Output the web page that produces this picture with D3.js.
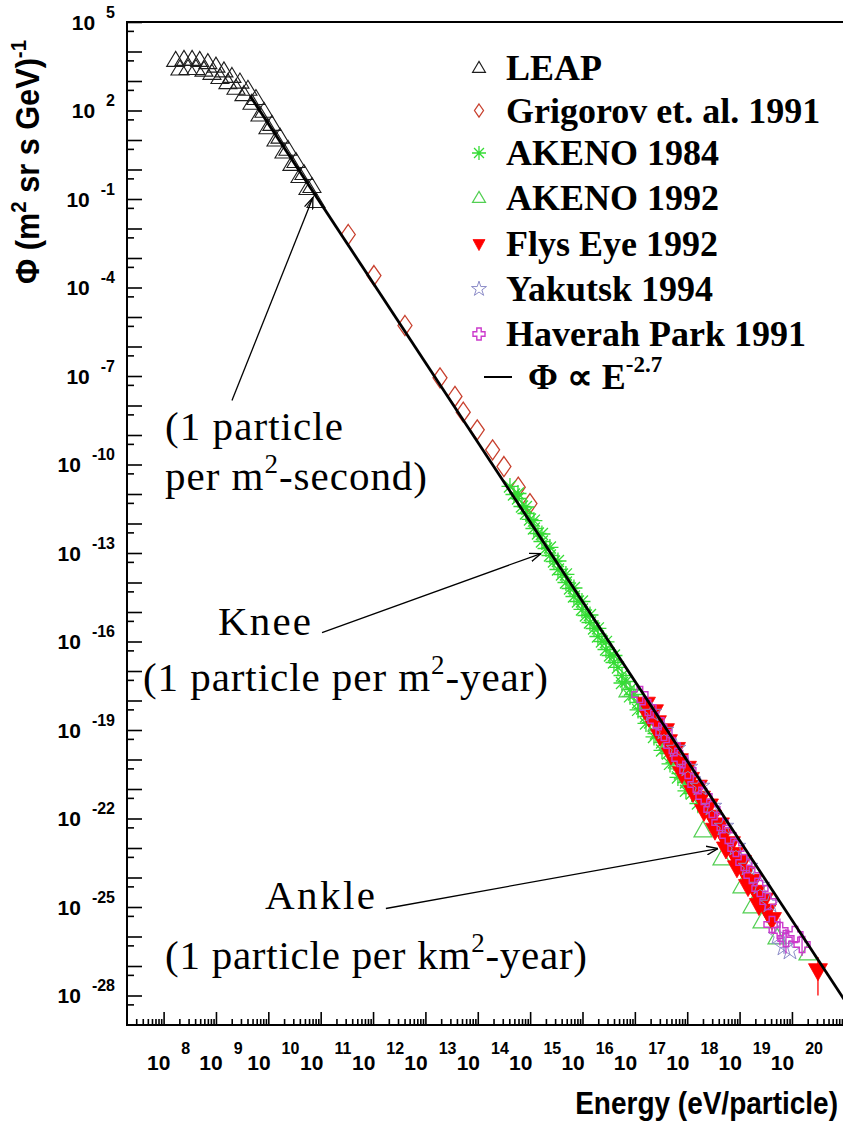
<!DOCTYPE html>
<html>
<head>
<meta charset="utf-8">
<script src="https://cdn.jsdelivr.net/npm/d3@7"></script>
<style>
  html, body { margin: 0; padding: 0; background: #fff; }
  svg { display: block; }
</style>
</head>
<body>
<svg id="chart" width="843" height="1128"></svg>
<script>
// ---- Cosmic-ray all-particle flux: [energy (eV), flux (m^2 sr s GeV)^-1] ----
const leap = [
  [1.7e8, 5.0e3], [2.45e8, 5.4e3], [3.5e8, 5.4e3], [4.9e8, 5.0e3], [7.0e8, 4.2e3],
  [1.0e9, 3.2e3], [1.42e9, 2.2e3], [2.02e9, 1.43e3], [2.87e9, 919], [4.08e9, 527],
  [5.8e9, 255], [8.25e9, 94], [1.17e10, 33.8], [1.67e10, 12.5], [2.37e10, 4.84],
  [3.37e10, 1.87], [4.79e10, 0.731], [6.81e10, 0.265],
  [2.05e8, 2.55e3], [2.92e8, 2.65e3], [4.15e8, 2.65e3], [5.9e8, 2.34e3], [8.38e8, 1.82e3],
  [1.19e9, 1.32e3], [1.69e9, 883], [2.41e9, 570], [3.42e9, 344], [4.87e9, 177],
  [6.92e9, 70.3], [9.84e9, 25.9], [1.4e10, 10], [1.99e10, 3.92], [2.82e10, 1.49],
  [4.02e10, 0.579], [5.71e10, 0.227], [8.13e10, 0.0822]
];
const grigorov = [
  [3.36e11, 6.26e-3], [1.04e12, 2.55e-4], [4.07e12, 5.15e-6], [1.90e13, 8.69e-8],
  [3.67e13, 2.02e-8], [5.28e13, 5.93e-9], [9.78e13, 1.50e-9], [1.92e14, 3.15e-10],
  [3.16e14, 8.55e-11], [5.93e14, 1.70e-11], [9.93e14, 4.76e-12]
];
const akeno1984 = [
  [4.12e14, 1.80e-11], [4.91e14, 9.62e-12], [5.86e14, 7.03e-12], [6.98e14, 3.77e-12],
  [8.32e14, 2.18e-12], [9.93e14, 1.37e-12], [1.18e15, 6.78e-13], [1.41e15, 4.58e-13],
  [1.68e15, 2.45e-13], [2.01e15, 1.42e-13], [2.39e15, 8.22e-14], [2.85e15, 5.15e-14],
  [3.40e15, 2.76e-14], [4.06e15, 1.87e-14], [4.83e15, 1.0e-14], [5.77e15, 6.27e-15],
  [6.87e15, 3.35e-15], [8.19e15, 2.27e-15], [9.77e15, 1.22e-15], [1.16e16, 7.60e-16],
  [1.39e16, 4.41e-16], [1.66e16, 2.76e-16], [1.97e16, 1.48e-16], [2.35e16, 1.0e-16],
  [2.81e16, 5.36e-17], [3.35e16, 3.35e-17], [3.99e16, 1.94e-17], [4.75e16, 1.32e-17],
  [5.68e16, 7.03e-18], [6.76e16, 4.41e-18], [8.07e16, 2.36e-18], [9.62e16, 1.60e-18],
  [1.15e17, 8.55e-19], [1.37e17, 5.36e-19], [1.63e17, 2.87e-19], [1.95e17, 1.79e-19],
  [2.53e17, 7.60e-20], [3.30e17, 3.77e-20], [4.29e17, 1.60e-20], [5.58e17, 7.91e-21],
  [7.26e17, 3.35e-21], [9.46e17, 1.66e-21], [1.23e18, 7.03e-22], [1.60e18, 3.22e-22],
  [5.86e14, 1.04e-11], [8.32e14, 3.62e-12], [1.18e15, 1.25e-12], [1.68e15, 4.41e-13],
  [2.39e15, 1.54e-13], [3.40e15, 5.36e-14], [4.83e15, 1.88e-14], [6.87e15, 6.52e-15],
  [9.77e15, 2.27e-15], [1.39e16, 7.91e-16], [1.97e16, 2.78e-16], [2.81e16, 9.68e-17],
  [3.99e16, 3.35e-17], [5.68e16, 3.92e-18], [8.07e16, 1.38e-18], [1.15e17, 4.80e-19],
  [1.63e17, 1.67e-19], [2.32e17, 5.83e-20], [3.30e17, 2.03e-20], [4.69e17, 7.10e-21],
  [6.65e17, 2.47e-21], [9.46e17, 8.69e-22]
];
const akeno1984Err = [
  [1.15e17, 3.3e-19, 1.4e-18], [2.53e17, 4.4e-20, 1.3e-19], [4.29e17, 9.0e-21, 2.8e-20],
  [7.26e17, 1.8e-21, 6.2e-21], [1.23e18, 3.6e-22, 1.4e-21], [1.60e18, 1.5e-22, 6.6e-22]
];
const akeno1992 = [
  [7.38e16, 2.18e-18], [2.64e17, 1.54e-19], [4.29e17, 3.48e-20], [6.95e17, 7.91e-21],
  [1.13e18, 1.94e-21], [2.00e18, 3.92e-23], [4.61e18, 4.41e-24], [1.11e19, 4.95e-25],
  [1.73e19, 1.04e-25], [2.68e19, 3.22e-26], [5.18e19, 9.25e-27], [2.02e20, 2.65e-27]
];
const flysEye1992 = [
  [1.63e17, 7.60e-19], [2.03e17, 3.92e-19], [2.64e17, 1.79e-19], [3.30e17, 8.89e-20],
  [4.29e17, 4.07e-20], [5.34e17, 2.02e-20], [6.95e17, 9.25e-21], [8.67e17, 4.76e-21],
  [1.13e18, 2.15e-21], [1.41e18, 1.10e-21], [1.83e18, 4.95e-22], [2.28e18, 2.55e-22],
  [2.97e18, 1.13e-22], [3.70e18, 5.83e-23], [4.82e18, 2.63e-23], [6.00e18, 1.35e-23],
  [7.82e18, 6.07e-24], [9.73e18, 3.10e-24], [1.27e19, 1.39e-24], [1.58e19, 7.14e-25],
  [2.06e19, 3.20e-25], [2.56e19, 1.65e-25], [3.33e19, 7.38e-26], [4.16e19, 3.80e-26],
  [1.86e17, 2.74e-19], [3.02e17, 6.27e-20], [4.90e17, 1.44e-20], [7.94e17, 3.35e-21],
  [1.29e18, 7.73e-22], [2.09e18, 1.77e-22], [3.39e18, 4.07e-23], [5.50e18, 9.40e-24],
  [8.91e18, 2.17e-24], [1.45e19, 4.99e-25], [2.34e19, 1.14e-25],
  [2.32e17, 4.21e-19], [3.76e17, 9.62e-20], [6.10e17, 2.22e-20], [9.89e17, 5.11e-21],
  [1.60e18, 1.17e-21], [2.60e18, 2.70e-22], [4.22e18, 6.17e-23], [6.84e18, 1.42e-23],
  [1.11e19, 3.27e-24], [1.80e19, 7.55e-25], [2.92e19, 1.74e-25],
  [3.14e20, 7.03e-28]
];
// error bars [energy, low, high]
const flysEyeErr = [
  [2.56e19, 7.9e-26, 5.1e-25], [3.33e19, 2.99e-26, 1.95e-25], [4.16e19, 1.60e-26, 8.9e-26],
  [3.14e20, 1.0e-28, 2.0e-27]
];
const yakutsk1994 = [
  [2.12e17, 3.92e-19], [3.60e17, 9.62e-20], [6.10e17, 2.36e-20], [1.03e18, 5.36e-21],
  [1.75e18, 1.22e-21], [2.97e18, 2.55e-22], [5.04e18, 5.36e-23], [8.53e18, 1.12e-23],
  [1.45e19, 2.36e-24], [2.45e19, 5.36e-25], [3.80e19, 1.32e-25], [5.41e19, 1.08e-26],
  [7.05e19, 4.58e-27], [9.17e19, 3.35e-27]
];
const yakutskErr = [[7.05e19, 2.6e-27, 8.0e-27]];
const haverahPark1991 = [
  [1.25e17, 1.60e-18], [1.78e17, 5.79e-19], [2.53e17, 2.10e-19], [3.60e17, 8.22e-20],
  [5.12e17, 2.99e-20], [7.26e17, 1.08e-20], [1.03e18, 4.24e-21], [1.47e18, 1.42e-21],
  [2.09e18, 5.57e-22], [2.97e18, 2.02e-22], [4.22e18, 7.31e-23], [6.00e18, 2.65e-23],
  [8.53e18, 9.62e-24], [1.21e19, 3.22e-24], [1.73e19, 1.17e-24], [2.45e19, 4.24e-25],
  [3.48e19, 1.53e-25], [4.16e19, 2.55e-26], [5.90e19, 1.60e-26], [7.69e19, 8.55e-27],
  [1.14e20, 1.17e-26], [1.56e20, 5.36e-27]
];
const haverahErr = [[5.90e19, 4.95e-27, 4.1e-26], [7.69e19, 2.65e-27, 1.8e-26], [1.56e20, 2.2e-27, 1.2e-26]];
// power law reference: endpoints of  1.8e4 (E/GeV)^-2.7
const powerLaw = [[4.5e9, 310], [1e21, 7.2e-29]];

// axis labelling
const xTickExponents = [8, 9, 10, 11, 12, 13, 14, 15, 16, 17, 18, 19, 20];
const yTickExponents = [5, 2, -1, -4, -7, -10, -13, -16, -19, -22, -25, -28];

const legendEntries = [
  { label: "LEAP", kind: "leap" },
  { label: "Grigorov et. al. 1991", kind: "grigorov" },
  { label: "AKENO 1984", kind: "akeno84" },
  { label: "AKENO 1992", kind: "akeno92" },
  { label: "Flys Eye 1992", kind: "flys" },
  { label: "Yakutsk 1994", kind: "yakutsk" },
  { label: "Haverah Park 1991", kind: "haverah" }
];

// ---- layout ----
const W = 843, H = 1128;
const svg = d3.select("#chart");
svg.append("rect").attr("width", W).attr("height", H).attr("fill", "#fff");

const frameL = 127, frameT = 22, frameB = 1025, frameR = 844.3;
const x = d3.scaleLog().domain([2e7, 1e21]).range([frameL, frameR]);
const y = d3.scaleLog().domain([1e-29, 1e5]).range([frameB, frameT]);

const SANS = "'Liberation Sans', Arial, Helvetica, sans-serif";
const SERIF = "'Liberation Serif', 'Times New Roman', Times, serif";

const defs = svg.append("defs");
defs.append("clipPath").attr("id", "plotclip")
  .append("rect").attr("x", frameL).attr("y", frameT).attr("width", frameR - frameL).attr("height", frameB - frameT);
defs.append("marker").attr("id", "arrowhead")
  .attr("viewBox", "0 0 12 10").attr("refX", 11.5).attr("refY", 5)
  .attr("markerWidth", 12).attr("markerHeight", 10)
  .attr("markerUnits", "userSpaceOnUse").attr("orient", "auto")
  .append("path").attr("d", "M0,0.6L11.5,5L0,9.4")
  .attr("fill", "none").attr("stroke", "#000").attr("stroke-width", 1.3);

// ---- marker shapes ----
function triPath(w, h, up) {
  const s = up ? 1 : -1;
  return `M0,${-s * h * 0.6}L${w / 2},${s * h * 0.4}L${-w / 2},${s * h * 0.4}Z`;
}
function diamondPath(w, h) {
  return `M0,${-h / 2}L${w / 2},0L0,${h / 2}L${-w / 2},0Z`;
}
function asteriskPath(r) {
  const k = r * 0.707;
  return `M${-r},0L${r},0M0,${-r}L0,${r}M${-k},${-k}L${k},${k}M${-k},${k}L${k},${-k}`;
}
function openCrossPath(r, a) {
  return `M${-a},${-r}L${a},${-r}L${a},${-a}L${r},${-a}L${r},${a}L${a},${a}L${a},${r}` +
         `L${-a},${r}L${-a},${a}L${-r},${a}L${-r},${-a}L${-a},${-a}Z`;
}
function starPath(area) { return d3.symbol().type(d3.symbolStar).size(area)(); }

const styles = {
  leap:     { big: triPath(18, 15, true),  small: triPath(13, 11, true),  stroke: "#1e1e1e", fill: "none", sw: 1.1 },
  grigorov: { big: diamondPath(14, 20),    small: diamondPath(9, 13),     stroke: "#c8402e", fill: "none", sw: 1.3 },
  akeno84:  { big: asteriskPath(8.5),      small: asteriskPath(7),        stroke: "#35dc35", fill: "none", sw: 1.3 },
  akeno92:  { big: triPath(18, 16, true),  small: triPath(13, 11, true),  stroke: "#52cf52", fill: "none", sw: 1.2 },
  flys:     { big: triPath(19, 17, false), small: triPath(12, 11, false), stroke: "#ff0000", fill: "#ff0000", sw: 0.8 },
  yakutsk:  { big: starPath(120),          small: starPath(70),           stroke: "#8c8cc8", fill: "none", sw: 1.0 },
  haverah:  { big: openCrossPath(8, 2.8),  small: openCrossPath(6, 2.2),  stroke: "#cc3acc", fill: "none", sw: 1.4 }
};

// ---- frame and axes ----
const axisG = svg.append("g");
const majorX = xTickExponents.map(n => Math.pow(10, n));
const minorX = [];
for (let n = 7; n <= 20; n++) for (let m = 2; m <= 9; m++) {
  const v = m * Math.pow(10, n);
  if (v > 2.05e7 && v < 1e21) minorX.push(v);
}
const majorY = d3.range(-28, 6).map(n => Math.pow(10, n));
const minorY = d3.range(-28, 6).map(n => 0.5 * Math.pow(10, n));

function styleAxis(g) {
  g.select(".domain").remove();
  g.selectAll(".tick line").attr("stroke", "#000").attr("stroke-width", 1.6);
  g.selectAll(".tick text").remove();
}
axisG.append("g").attr("transform", `translate(0,${frameB})`)
  .call(d3.axisBottom(x).tickValues(majorX).tickSize(-13).tickFormat("")).call(styleAxis);
axisG.append("g").attr("transform", `translate(0,${frameB})`)
  .call(d3.axisBottom(x).tickValues(minorX).tickSize(-6).tickFormat("")).call(styleAxis);
axisG.append("g").attr("transform", `translate(${frameL},0)`)
  .call(d3.axisLeft(y).tickValues(majorY).tickSize(-15).tickFormat("")).call(styleAxis);
axisG.append("g").attr("transform", `translate(${frameL},0)`)
  .call(d3.axisLeft(y).tickValues(minorY).tickSize(-7).tickFormat("")).call(styleAxis);

axisG.append("rect").attr("x", frameL).attr("y", frameT)
  .attr("width", frameR - frameL).attr("height", frameB - frameT)
  .attr("fill", "none").attr("stroke", "#000").attr("stroke-width", 2);

// tick labels as 10^n
const labG = svg.append("g").attr("font-family", SANS).attr("font-weight", "bold").attr("fill", "#000");
xTickExponents.forEach(n => {
  const t = labG.append("text").attr("x", x(Math.pow(10, n)) + 5).attr("y", 1070).attr("text-anchor", "middle");
  t.append("tspan").attr("font-size", 21).text("10");
  t.append("tspan").attr("font-size", 16).attr("dx", 11).attr("dy", -16).text(n);
});
yTickExponents.forEach(n => {
  const t = labG.append("text").attr("x", 115).attr("y", y(Math.pow(10, n)) + 7.5).attr("text-anchor", "end");
  t.append("tspan").attr("font-size", 21).text("10");
  t.append("tspan").attr("font-size", 16).attr("dx", 11).attr("dy", -12).text(n);
});

// axis titles (narrow bold sans, as in the original figure)
labG.append("text").attr("transform", "translate(838,1114) scale(0.875,1)")
  .attr("text-anchor", "end").attr("font-size", 32)
  .text("Energy (eV/particle)");
const yt = labG.append("text").attr("transform", "translate(39,284) rotate(-90) scale(0.93,1)")
  .attr("text-anchor", "start").attr("font-size", 33);
yt.append("tspan").text("\u03A6 (m");
yt.append("tspan").attr("font-size", 22).attr("dy", -13).text("2");
yt.append("tspan").attr("dy", 13).text(" sr s GeV)");
yt.append("tspan").attr("font-size", 22).attr("dy", -13).text("-1");

// ---- data ----
const plot = svg.append("g").attr("clip-path", "url(#plotclip)");

function drawErrors(rows, color) {
  plot.append("g").selectAll("line").data(rows).join("line")
    .attr("x1", d => x(d[0])).attr("x2", d => x(d[0]))
    .attr("y1", d => y(d[1])).attr("y2", d => y(d[2]))
    .attr("stroke", color).attr("stroke-width", 1.3);
}
function drawSeries(rows, kind) {
  const s = styles[kind];
  plot.append("g").selectAll("path").data(rows).join("path")
    .attr("transform", d => `translate(${x(d[0])},${y(d[1])})`)
    .attr("d", s.big).attr("fill", s.fill).attr("stroke", s.stroke)
    .attr("stroke-width", s.sw).attr("stroke-linejoin", "miter");
}

drawSeries(leap, "leap");
drawSeries(grigorov, "grigorov");
drawErrors(akeno1984Err, "#35dc35");
drawSeries(akeno1984, "akeno84");
drawSeries(akeno1992, "akeno92");
drawErrors(flysEyeErr, "#ff0000");
drawSeries(flysEye1992, "flys");
drawErrors(yakutskErr, "#8c8cc8");
drawSeries(yakutsk1994, "yakutsk");
drawErrors(haverahErr, "#cc3acc");
drawSeries(haverahPark1991, "haverah");

// power-law reference line
plot.append("path").datum(powerLaw)
  .attr("d", d3.line().x(d => x(d[0])).y(d => y(d[1])))
  .attr("fill", "none").attr("stroke", "#000").attr("stroke-width", 2.8);

// ---- annotations ----
const arrows = [
  { from: [2.02e9, 1.48e-8], to: [7.1e10, 0.112] },
  { from: [1.06e11, 2.0e-16], to: [1.61e15, 9.6e-14] },
  { from: [1.76e12, 8.9e-26], to: [3.86e18, 9.6e-24] }
];
svg.append("g").selectAll("line").data(arrows).join("line")
  .attr("x1", d => x(d.from[0])).attr("y1", d => y(d.from[1]))
  .attr("x2", d => x(d.to[0])).attr("y2", d => y(d.to[1]))
  .attr("stroke", "#000").attr("stroke-width", 1.3)
  .attr("marker-end", "url(#arrowhead)");

const notes = svg.append("g").attr("font-family", SERIF).attr("font-size", 41).attr("fill", "#000");
function note(px, py, parts, width) {
  const t = notes.append("text").attr("x", px).attr("y", py);
  parts.forEach(p => {
    const s = t.append("tspan").text(p.t);
    if (p.sup) s.attr("font-size", 27).attr("dy", -17);
    if (p.down) s.attr("dy", 17);
  });
  if (width) t.attr("textLength", width).attr("lengthAdjust", "spacing");
}
note(165, 440, [{ t: "(1 particle" }], 178);
note(165, 490, [{ t: "per m" }, { t: "2", sup: true }, { t: "-second)", down: true }], 262);
note(218, 635, [{ t: "Knee" }], 93);
note(143, 691, [{ t: "(1 particle per m" }, { t: "2", sup: true }, { t: "-year)", down: true }], 405);
note(265, 909, [{ t: "Ankle" }], 110);
note(165, 969, [{ t: "(1 particle per km" }, { t: "2", sup: true }, { t: "-year)", down: true }], 422);

// ---- legend ----
const leg = svg.append("g");
const legBase = [80, 122.5, 165, 210, 256, 301, 346];
legendEntries.forEach((e, i) => {
  const s = styles[e.kind];
  leg.append("path").attr("transform", `translate(479,${legBase[i] - 12})`)
    .attr("d", s.small).attr("fill", s.fill).attr("stroke", s.stroke).attr("stroke-width", s.sw);
  leg.append("text").attr("x", 506).attr("y", legBase[i])
    .attr("font-family", SERIF).attr("font-weight", "bold").attr("font-size", 36)
    .text(e.label);
});
leg.append("line").attr("x1", 484).attr("x2", 512).attr("y1", 377).attr("y2", 377)
  .attr("stroke", "#000").attr("stroke-width", 2);
const lt = leg.append("text").attr("x", 528).attr("y", 389)
  .attr("font-family", SERIF).attr("font-weight", "bold").attr("font-size", 36);
lt.append("tspan").text("\u03A6 \u221D E");
lt.append("tspan").attr("font-size", 23).attr("dy", -17).text("-2.7");
</script>
</body>
</html>
